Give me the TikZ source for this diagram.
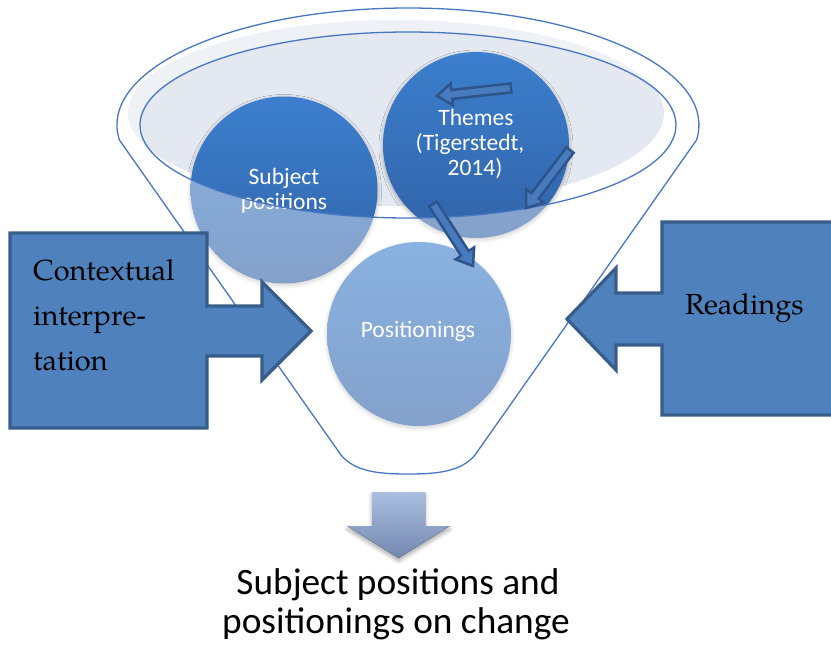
\documentclass[tikz,border=0pt]{standalone}
\usepackage{fontspec}
\setmainfont{Carlito}
\newfontfamily\bookserif{TeX Gyre Pagella}
\usetikzlibrary{calc,shadows.blur}

\definecolor{funnelline}{RGB}{72,118,194}
\definecolor{rimfill}{RGB}{227,232,241}
\definecolor{balltop}{RGB}{60,127,206}
\definecolor{ballbot}{RGB}{49,99,168}
\definecolor{blockfill}{RGB}{79,129,189}
\definecolor{blockline}{RGB}{56,93,138}
\definecolor{tipfill}{RGB}{72,122,190}
\definecolor{tipline}{RGB}{46,84,140}
\definecolor{outtop}{RGB}{170,190,224}
\definecolor{outbot}{RGB}{116,136,176}

\tikzset{
  ball/.style={circle, minimum size=#1, inner sep=0pt,
    top color=balltop, bottom color=ballbot,
    blur shadow={shadow blur steps=6, shadow xshift=0pt, shadow yshift=-2pt,
      shadow opacity=30, shadow blur radius=4pt}},
  balltext/.style={text=white, font=\fontsize{23.5}{25}\selectfont,
    anchor=base, inner sep=0pt},
  block/.style={fill=blockfill, draw=blockline, line width=3.2pt, line join=miter},
  blocktext/.style={font=\bookserif\fontsize{29}{45}\selectfont,
    anchor=base west, inner sep=0pt},
  tiparrow/.style={fill=tipfill, draw=tipline, line width=2.5pt, line join=miter},
  rim/.style={draw=funnelline, line width=1.3pt},
  result/.style={font=\fontsize{37.3}{40}\selectfont, anchor=base, inner sep=0pt},
}

% hollow block arrow from #1 to #2 (head 15pt long)
\newcommand\flowarrow[2]{%
  \coordinate (#1-h) at ($(#2)!15pt!(#1)$);
  \draw[tiparrow]
    ($(#1)!4.5pt!90:(#2)$) -- ($(#1-h)!4.5pt!90:(#2)$) --
    ($(#1-h)!11pt!90:(#2)$) -- (#2) -- ($(#1-h)!11pt!-90:(#2)$) --
    ($(#1-h)!4.5pt!-90:(#2)$) -- ($(#1)!4.5pt!-90:(#2)$) -- cycle;}

% outline of the funnel: rim on top, slanted sides, rounded spout
\newcommand\funnelpath{(341,455) -- (119.4,140)
  arc[start angle=172.63, end angle=367.37, x radius=291, y radius=117]
  -- (475,455) .. controls (461,472) and (436,474) .. (408,474)
  .. controls (380,474) and (355,472) .. (341,455) -- cycle}

\begin{document}
\begin{tikzpicture}[x=1pt, y=-1pt]
\clip (0,0) rectangle (831,646);

% tinted opening of the funnel
\fill[rimfill] (396,113) ellipse [x radius=268, y radius=93];

% the three topics
\node[ball=187pt] (subj) at (284,190) {};
\node[ball=186pt] (them) at (476,145) {};
\node[ball=184pt] (posi) at (419,334) {};

\node[balltext] (subj1) at (284,184) {Subject};
\node[balltext] (subj2) at (284,209) {positions};
\node[balltext] (them1) at (476,125) {Themes};
\node[balltext] (them2) at (470,150) {(Tigerstedt,};
\node[balltext] (them3) at (475,175) {2014)};
\node[balltext] (posi1) at (418,337) {Positionings};

% glassy front of the funnel below the opening
\fill[white, fill opacity=0.4, even odd rule] \funnelpath
  (408,125) ellipse [x radius=268, y radius=93];

% funnel outlines
\draw[rim] \funnelpath;
\draw[rim] (408,125) ellipse [x radius=268, y radius=93];

% arrows between the topics
\coordinate (a1) at (511,88);
\coordinate (b1) at (437,96);
\coordinate (a2) at (570,150);
\coordinate (b2) at (526,208);
\coordinate (a3) at (433,204);
\coordinate (b3) at (473,266);
\flowarrow{a1}{b1}
\flowarrow{a2}{b2}
\flowarrow{a3}{b3}

% input from the left
\draw[block] (10,233) -- (207,233) -- (207,306) -- (262,306) -- (262,282)
  -- (311,331) -- (262,380) -- (262,356) -- (207,356) -- (207,428)
  -- (10,428) -- cycle;
\node[blocktext] (ctx1) at (33,280) {Contextual};
\node[blocktext] (ctx2) at (33,325) {interpre-};
\node[blocktext] (ctx3) at (33,370) {tation};

% input from the right
\draw[block] (845,222) -- (662,222) -- (662,293) -- (616,293) -- (616,268)
  -- (567,319) -- (616,370) -- (616,345) -- (662,345) -- (662,415)
  -- (845,415);
\node[blocktext] (read) at (685,314) {Readings};

% output of the funnel
\fill[top color=outtop, bottom color=outbot,
  blur shadow={shadow blur steps=6, shadow xshift=0pt, shadow yshift=-3pt,
    shadow opacity=35, shadow blur radius=4pt}]
  (372,492) -- (425,492) -- (425,526) -- (450,526) -- (398.5,558)
  -- (347,526) -- (372,526) -- cycle;

\node[result] (out1) at (398,594) {Subject positions and};
\node[result] (out2) at (396,633) {positionings on change};
\end{tikzpicture}
\end{document}
